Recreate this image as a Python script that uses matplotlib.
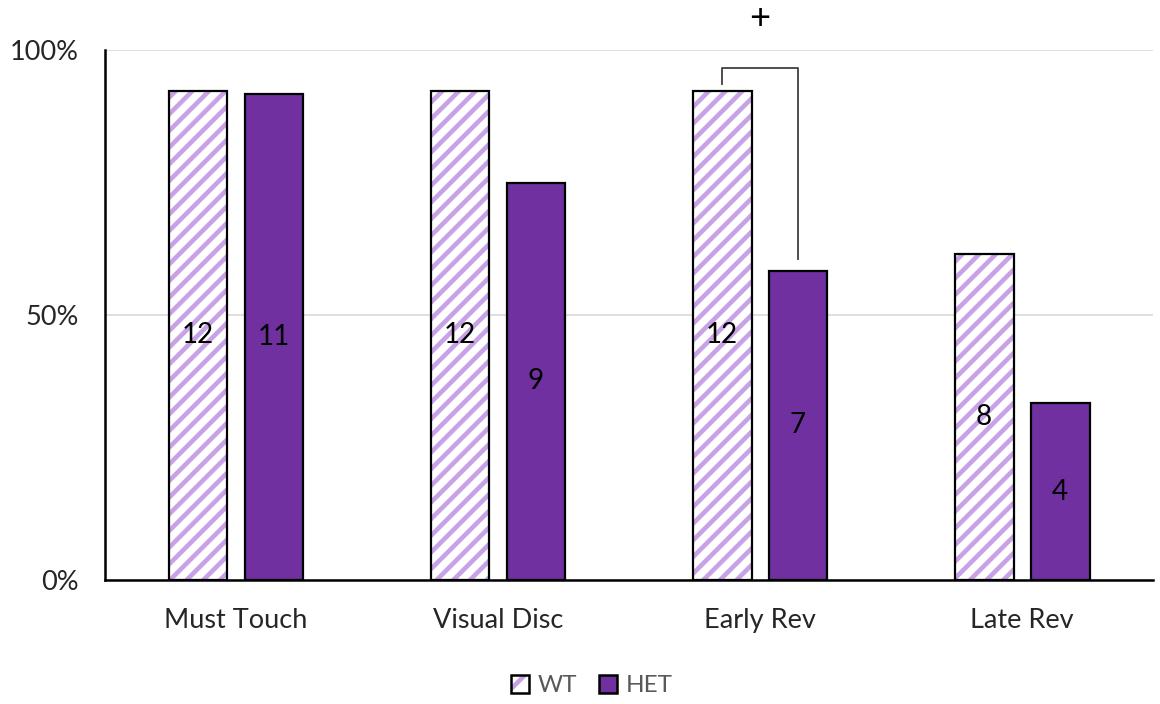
import matplotlib
matplotlib.use("Agg")
import matplotlib.pyplot as plt
import numpy as np
from matplotlib.patches import Patch
from matplotlib.legend_handler import HandlerTuple
from matplotlib.ticker import FuncFormatter

categories = ["Must Touch", "Visual Disc", "Early Rev", "Late Rev"]
wt_counts = [12, 12, 12, 8]
het_counts = [11, 9, 7, 4]
wt_totals = [13, 13, 13, 13]
het_totals = [12, 12, 12, 12]
wt_frac = [c / t for c, t in zip(wt_counts, wt_totals)]
het_frac = [c / t for c, t in zip(het_counts, het_totals)]
series_names = ["WT", "HET"]

HET_COLOR = "#7030A0"
WT_HATCH = "#C8A2E6"

plt.rcParams["font.family"] = ["Lato", "DejaVu Sans"]
plt.rcParams["hatch.linewidth"] = 3.3

fig = plt.figure(figsize=(11.6, 7.04), dpi=100)
ax = fig.add_axes([0.0905, 0.176, 0.9035, 0.753])

x = np.arange(len(categories))
w = 0.225
off = 0.145

# WT: hatched stripes, then black outline on top
ax.bar(x - off, wt_frac, w, facecolor="white", edgecolor=WT_HATCH,
       hatch="//", linewidth=0, zorder=2)
ax.bar(x - off, wt_frac, w, facecolor="none", edgecolor="black",
       linewidth=1.6, zorder=3)
# HET: solid purple
ax.bar(x + off, het_frac, w, facecolor=HET_COLOR, edgecolor="black",
       linewidth=1.6, zorder=3)

# count labels at bar mid-height
for xi, f, c in zip(x - off, wt_frac, wt_counts):
    ax.text(xi, f / 2, str(c), ha="center", va="center", fontsize=20,
            color="black", zorder=4)
for xi, f, c in zip(x + off, het_frac, het_counts):
    ax.text(xi, f / 2, str(c), ha="center", va="center", fontsize=20,
            color="black", zorder=4)

# significance bracket for Early Rev
i = 2
y_wt = wt_frac[i] + 0.013
y_het = het_frac[i] + 0.022
y_top = 0.966
ax.plot([x[i] - off, x[i] - off, x[i] + off, x[i] + off],
        [y_wt, y_top, y_top, y_het], color="#404040", lw=1.3,
        clip_on=False, zorder=5)
ax.text(x[i], 1.06, "+", ha="center", va="center", fontsize=26,
        color="black", clip_on=False)

ax.set_xlim(-0.5, len(categories) - 0.5)
ax.set_ylim(0, 1.0)
ax.set_yticks([0, 0.5, 1.0])
ax.yaxis.set_major_formatter(FuncFormatter(lambda v, p: f"{v:.0%}"))
ax.set_xticks(x)
ax.set_xticklabels(categories)
ax.tick_params(axis="both", length=0, labelsize=19.5)
ax.tick_params(axis="x", pad=20)
ax.tick_params(axis="y", pad=19)
for lbl in ax.get_xticklabels() + ax.get_yticklabels():
    lbl.set_color("#262626")

ax.grid(axis="y", color="#D9D9D9", linewidth=1.2, zorder=0)
ax.set_axisbelow(True)
for s in ["top", "right"]:
    ax.spines[s].set_visible(False)
for s in ["left", "bottom"]:
    ax.spines[s].set_linewidth(1.8)
    ax.spines[s].set_color("black")
    ax.spines[s].set_zorder(6)

wt_handle = (Patch(facecolor="white", edgecolor=WT_HATCH, hatch="/", linewidth=0),
             Patch(facecolor="none", edgecolor="black", linewidth=1.8))
het_handle = Patch(facecolor=HET_COLOR, edgecolor="black", linewidth=1.8)
leg = fig.legend([wt_handle, het_handle], series_names,
                 handler_map={tuple: HandlerTuple(ndivide=1)},
                 loc="center", bbox_to_anchor=(0.51, 0.026), ncol=2,
                 frameon=False, fontsize=17.5, handlelength=0.75,
                 handleheight=0.75, handletextpad=0.35, columnspacing=0.9)
for t in leg.get_texts():
    t.set_color("#595959")

fig.savefig("out.png", dpi=100)
